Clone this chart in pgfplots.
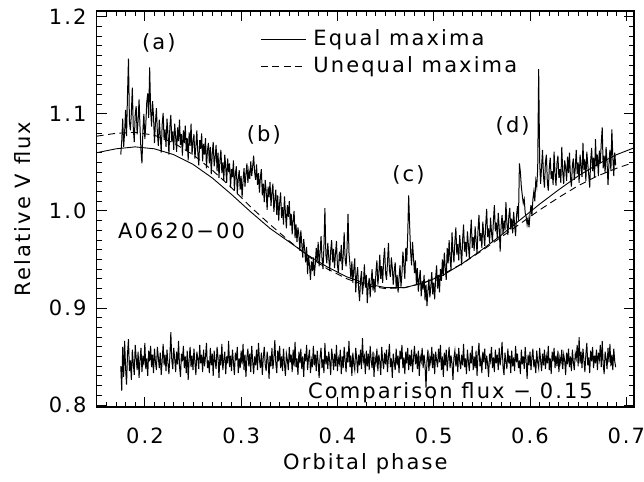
\documentclass[border=0pt]{standalone}
\usepackage{fontspec}
\setmainfont{DejaVu Sans}[LetterSpace=10]
\usepackage{pgfplots}
\usepackage{pgfplotstable}
\pgfplotsset{compat=1.18}

\pgfplotstableread[row sep=\\]{
x y\\
0.175 1.058\\ 0.176 1.072\\ 0.177 1.095\\ 0.178 1.066\\ 0.179 1.081\\ 0.180 1.104\\ 0.181 1.077\\ 0.182 1.120\\ 0.183 1.157\\ 0.184 1.092\\
0.185 1.083\\ 0.186 1.101\\ 0.187 1.127\\ 0.188 1.085\\ 0.189 1.071\\ 0.190 1.099\\ 0.191 1.108\\ 0.192 1.079\\ 0.193 1.093\\ 0.194 1.115\\
0.195 1.086\\ 0.196 1.062\\ 0.197 1.049\\ 0.198 1.083\\ 0.199 1.100\\ 0.200 1.074\\ 0.201 1.089\\ 0.202 1.112\\ 0.203 1.121\\ 0.204 1.096\\
0.205 1.148\\ 0.206 1.104\\ 0.207 1.087\\ 0.208 1.113\\ 0.209 1.098\\ 0.210 1.070\\ 0.211 1.091\\ 0.212 1.106\\ 0.213 1.081\\ 0.214 1.067\\
0.215 1.094\\ 0.216 1.078\\ 0.217 1.060\\ 0.218 1.089\\ 0.219 1.101\\ 0.220 1.073\\ 0.221 1.084\\ 0.222 1.066\\ 0.223 1.095\\ 0.224 1.080\\
0.225 1.058\\ 0.226 1.087\\ 0.227 1.099\\ 0.228 1.071\\ 0.229 1.082\\ 0.230 1.063\\ 0.231 1.090\\ 0.232 1.076\\ 0.233 1.061\\ 0.234 1.086\\
0.235 1.072\\ 0.236 1.094\\ 0.237 1.068\\ 0.238 1.079\\ 0.239 1.057\\ 0.240 1.083\\ 0.241 1.070\\ 0.242 1.088\\ 0.243 1.062\\ 0.244 1.075\\
0.245 1.052\\ 0.246 1.081\\ 0.247 1.067\\ 0.248 1.090\\ 0.249 1.058\\ 0.250 1.071\\ 0.251 1.079\\ 0.252 1.054\\ 0.253 1.066\\ 0.254 1.083\\
0.255 1.060\\ 0.256 1.047\\ 0.257 1.073\\ 0.258 1.064\\ 0.259 1.080\\ 0.260 1.051\\ 0.261 1.069\\ 0.262 1.058\\ 0.263 1.075\\ 0.264 1.044\\
0.265 1.062\\ 0.266 1.070\\ 0.267 1.049\\ 0.268 1.066\\ 0.269 1.038\\ 0.270 1.059\\ 0.271 1.071\\ 0.272 1.046\\ 0.273 1.055\\ 0.274 1.068\\
0.275 1.041\\ 0.276 1.060\\ 0.277 1.034\\ 0.278 1.052\\ 0.279 1.063\\ 0.280 1.039\\ 0.281 1.050\\ 0.282 1.031\\ 0.283 1.058\\ 0.284 1.045\\
0.285 1.029\\ 0.286 1.054\\ 0.287 1.040\\ 0.288 1.049\\ 0.289 1.024\\ 0.290 1.043\\ 0.291 1.035\\ 0.292 1.052\\ 0.293 1.021\\ 0.294 1.038\\
0.295 1.046\\ 0.296 1.017\\ 0.297 1.033\\ 0.298 1.042\\ 0.299 1.022\\ 0.300 1.036\\ 0.301 1.014\\ 0.302 1.031\\ 0.303 1.044\\ 0.304 1.025\\
0.305 1.038\\ 0.306 1.049\\ 0.307 1.029\\ 0.308 1.041\\ 0.309 1.033\\ 0.310 1.051\\ 0.311 1.036\\ 0.312 1.046\\ 0.313 1.057\\ 0.314 1.040\\
0.315 1.032\\ 0.316 1.048\\ 0.317 1.027\\ 0.318 1.039\\ 0.319 1.019\\ 0.320 1.035\\ 0.321 1.043\\ 0.322 1.016\\ 0.323 1.028\\ 0.324 1.009\\
0.325 1.032\\ 0.326 1.020\\ 0.327 1.001\\ 0.328 1.025\\ 0.329 1.014\\ 0.330 1.030\\ 0.331 1.005\\ 0.332 1.019\\ 0.333 1.028\\ 0.334 0.999\\
0.335 1.012\\ 0.336 1.022\\ 0.337 0.996\\ 0.338 1.016\\ 0.339 0.990\\ 0.340 1.008\\ 0.341 1.019\\ 0.342 0.993\\ 0.343 1.004\\ 0.344 0.986\\
0.345 1.015\\ 0.346 0.998\\ 0.347 0.982\\ 0.348 1.006\\ 0.349 0.994\\ 0.350 1.010\\ 0.351 0.985\\ 0.352 0.997\\ 0.353 0.976\\ 0.354 0.991\\
0.355 1.000\\ 0.356 0.972\\ 0.357 0.986\\ 0.358 0.968\\ 0.359 0.983\\ 0.360 0.975\\ 0.361 0.959\\ 0.362 0.980\\ 0.363 0.966\\ 0.364 0.952\\
0.365 0.971\\ 0.366 0.960\\ 0.367 0.947\\ 0.368 0.963\\ 0.369 0.935\\ 0.370 0.954\\ 0.371 0.944\\ 0.372 0.929\\ 0.373 0.948\\ 0.374 0.938\\
0.375 0.952\\ 0.376 0.933\\ 0.377 0.945\\ 0.378 0.962\\ 0.379 0.949\\ 0.380 0.968\\ 0.381 0.943\\ 0.382 0.957\\ 0.383 0.974\\ 0.384 0.951\\
0.385 0.940\\ 0.386 0.963\\ 0.387 1.003\\ 0.388 0.955\\ 0.389 0.946\\ 0.390 0.967\\ 0.391 0.952\\ 0.392 0.938\\ 0.393 0.959\\ 0.394 0.970\\
0.395 0.947\\ 0.396 0.961\\ 0.397 0.941\\ 0.398 0.956\\ 0.399 0.969\\ 0.400 0.944\\ 0.401 0.936\\ 0.402 0.958\\ 0.403 0.948\\ 0.404 0.965\\
0.405 0.939\\ 0.406 0.954\\ 0.407 0.978\\ 0.408 0.950\\ 0.409 0.943\\ 0.410 0.962\\ 0.411 0.997\\ 0.412 0.957\\ 0.413 0.945\\ 0.414 0.930\\
0.415 0.948\\ 0.416 0.926\\ 0.417 0.940\\ 0.418 0.951\\ 0.419 0.916\\ 0.420 0.933\\ 0.421 0.942\\ 0.422 0.920\\ 0.423 0.907\\ 0.424 0.929\\
0.425 0.938\\ 0.426 0.914\\ 0.427 0.925\\ 0.428 0.945\\ 0.429 0.921\\ 0.430 0.934\\ 0.431 0.905\\ 0.432 0.923\\ 0.433 0.931\\ 0.434 0.911\\
0.435 0.927\\ 0.436 0.940\\ 0.437 0.918\\ 0.438 0.930\\ 0.439 0.916\\ 0.440 0.937\\ 0.441 0.949\\ 0.442 0.924\\ 0.443 0.935\\ 0.444 0.955\\
0.445 0.930\\ 0.446 0.943\\ 0.447 0.926\\ 0.448 0.950\\ 0.449 0.962\\ 0.450 0.936\\ 0.451 0.929\\ 0.452 0.947\\ 0.453 0.967\\ 0.454 0.939\\
0.455 0.932\\ 0.456 0.952\\ 0.457 0.941\\ 0.458 0.924\\ 0.459 0.938\\ 0.460 0.947\\ 0.461 0.921\\ 0.462 0.934\\ 0.463 0.916\\ 0.464 0.931\\
0.465 0.944\\ 0.466 0.922\\ 0.467 0.935\\ 0.468 0.958\\ 0.469 0.945\\ 0.470 0.930\\ 0.471 0.962\\ 0.472 0.948\\ 0.473 0.975\\ 0.474 1.016\\
0.475 0.985\\ 0.476 0.958\\ 0.477 0.944\\ 0.478 0.968\\ 0.479 0.952\\ 0.480 0.936\\ 0.481 0.949\\ 0.482 0.925\\ 0.483 0.941\\ 0.484 0.917\\
0.485 0.930\\ 0.486 0.939\\ 0.487 0.912\\ 0.488 0.928\\ 0.489 0.919\\ 0.490 0.934\\ 0.491 0.908\\ 0.492 0.924\\ 0.493 0.902\\ 0.494 0.918\\
0.495 0.930\\ 0.496 0.911\\ 0.497 0.922\\ 0.498 0.937\\ 0.499 0.914\\ 0.500 0.926\\ 0.501 0.909\\ 0.502 0.931\\ 0.503 0.944\\ 0.504 0.920\\
0.505 0.934\\ 0.506 0.916\\ 0.507 0.940\\ 0.508 0.928\\ 0.509 0.950\\ 0.510 0.933\\ 0.511 0.957\\ 0.512 0.941\\ 0.513 0.929\\ 0.514 0.962\\
0.515 0.946\\ 0.516 0.970\\ 0.517 0.951\\ 0.518 0.939\\ 0.519 0.978\\ 0.520 0.958\\ 0.521 0.947\\ 0.522 0.969\\ 0.523 0.983\\ 0.524 0.955\\
0.525 0.966\\ 0.526 0.949\\ 0.527 0.975\\ 0.528 0.961\\ 0.529 0.944\\ 0.530 0.970\\ 0.531 0.986\\ 0.532 0.958\\ 0.533 0.968\\ 0.534 0.953\\
0.535 0.979\\ 0.536 0.965\\ 0.537 0.951\\ 0.538 0.974\\ 0.539 0.991\\ 0.540 0.962\\ 0.541 0.973\\ 0.542 0.959\\ 0.543 0.984\\ 0.544 0.970\\
0.545 0.956\\ 0.546 0.980\\ 0.547 0.996\\ 0.548 0.969\\ 0.549 0.977\\ 0.550 0.962\\ 0.551 0.989\\ 0.552 0.975\\ 0.553 0.964\\ 0.554 0.986\\
0.555 1.002\\ 0.556 0.973\\ 0.557 0.982\\ 0.558 0.967\\ 0.559 0.993\\ 0.560 0.978\\ 0.561 0.968\\ 0.562 0.990\\ 0.563 1.006\\ 0.564 0.979\\
0.565 0.988\\ 0.566 0.972\\ 0.567 0.998\\ 0.568 0.983\\ 0.569 0.958\\ 0.570 0.985\\ 0.571 0.996\\ 0.572 0.976\\ 0.573 0.990\\ 0.574 0.980\\
0.575 1.009\\ 0.576 0.987\\ 0.577 0.975\\ 0.578 0.994\\ 0.579 1.003\\ 0.580 0.981\\ 0.581 0.992\\ 0.582 0.977\\ 0.583 0.999\\ 0.584 0.986\\
0.585 0.974\\ 0.586 0.995\\ 0.587 1.005\\ 0.588 0.990\\ 0.589 1.049\\ 0.590 1.040\\ 0.591 1.025\\ 0.592 1.016\\ 0.593 1.008\\ 0.594 1.012\\
0.595 0.998\\ 0.596 0.994\\ 0.597 0.986\\ 0.598 0.992\\ 0.599 0.983\\ 0.600 0.997\\ 0.601 1.006\\ 0.602 0.995\\ 0.603 1.012\\ 0.604 1.020\\
0.605 1.010\\ 0.606 1.031\\ 0.607 1.025\\ 0.608 1.044\\ 0.609 1.146\\ 0.610 1.052\\ 0.611 1.028\\ 0.612 1.045\\ 0.613 1.063\\ 0.614 1.036\\
0.615 1.024\\ 0.616 1.050\\ 0.617 1.058\\ 0.618 1.030\\ 0.619 1.021\\ 0.620 1.044\\ 0.621 1.055\\ 0.622 1.033\\ 0.623 1.041\\ 0.624 1.027\\
0.625 1.061\\ 0.626 1.038\\ 0.627 1.026\\ 0.628 1.049\\ 0.629 1.057\\ 0.630 1.034\\ 0.631 1.043\\ 0.632 1.029\\ 0.633 1.066\\ 0.634 1.040\\
0.635 1.028\\ 0.636 1.052\\ 0.637 1.045\\ 0.638 1.031\\ 0.639 1.056\\ 0.640 1.039\\ 0.641 1.060\\ 0.642 1.035\\ 0.643 1.025\\ 0.644 1.047\\
0.645 1.054\\ 0.646 1.032\\ 0.647 1.044\\ 0.648 1.063\\ 0.649 1.038\\ 0.650 1.050\\ 0.651 1.029\\ 0.652 1.058\\ 0.653 1.046\\ 0.654 1.035\\
0.655 1.070\\ 0.656 1.042\\ 0.657 1.053\\ 0.658 1.031\\ 0.659 1.061\\ 0.660 1.048\\ 0.661 1.037\\ 0.662 1.024\\ 0.663 1.052\\ 0.664 1.065\\
0.665 1.041\\ 0.666 1.055\\ 0.667 1.034\\ 0.668 1.074\\ 0.669 1.046\\ 0.670 1.058\\ 0.671 1.036\\ 0.672 1.062\\ 0.673 1.049\\ 0.674 1.070\\
0.675 1.086\\ 0.676 1.044\\ 0.677 1.057\\ 0.678 1.039\\ 0.679 1.066\\ 0.680 1.051\\ 0.681 1.027\\ 0.682 1.048\\ 0.683 1.063\\ 0.684 1.041\\
0.685 1.084\\ 0.686 1.056\\ 0.687 1.036\\ 0.688 1.060\\ 0.689 1.047\\
}\lightcurve

\pgfplotstableread[row sep=\\]{
x y\\
0.175 0.840\\ 0.176 0.815\\ 0.177 0.860\\ 0.178 0.829\\ 0.179 0.866\\ 0.180 0.838\\ 0.181 0.821\\ 0.182 0.853\\ 0.183 0.868\\ 0.184 0.835\\
0.185 0.846\\ 0.186 0.826\\ 0.187 0.857\\ 0.188 0.843\\ 0.189 0.831\\ 0.190 0.862\\ 0.191 0.849\\ 0.192 0.836\\ 0.193 0.855\\ 0.194 0.828\\
0.195 0.847\\ 0.196 0.859\\ 0.197 0.834\\ 0.198 0.851\\ 0.199 0.841\\ 0.200 0.864\\ 0.201 0.837\\ 0.202 0.848\\ 0.203 0.830\\ 0.204 0.856\\
0.205 0.845\\ 0.206 0.861\\ 0.207 0.839\\ 0.208 0.852\\ 0.209 0.833\\ 0.210 0.858\\ 0.211 0.844\\ 0.212 0.836\\ 0.213 0.860\\ 0.214 0.849\\
0.215 0.838\\ 0.216 0.854\\ 0.217 0.831\\ 0.218 0.846\\ 0.219 0.863\\ 0.220 0.841\\ 0.221 0.852\\ 0.222 0.835\\ 0.223 0.857\\ 0.224 0.843\\
0.225 0.832\\ 0.226 0.850\\ 0.227 0.875\\ 0.228 0.846\\ 0.229 0.837\\ 0.230 0.859\\ 0.231 0.848\\ 0.232 0.834\\ 0.233 0.855\\ 0.234 0.842\\
0.235 0.866\\ 0.236 0.840\\ 0.237 0.829\\ 0.238 0.853\\ 0.239 0.845\\ 0.240 0.861\\ 0.241 0.838\\ 0.242 0.850\\ 0.243 0.833\\ 0.244 0.856\\
0.245 0.826\\ 0.246 0.847\\ 0.247 0.860\\ 0.248 0.839\\ 0.249 0.851\\ 0.250 0.836\\ 0.251 0.858\\ 0.252 0.844\\ 0.253 0.831\\ 0.254 0.855\\
0.255 0.848\\ 0.256 0.837\\ 0.257 0.862\\ 0.258 0.843\\ 0.259 0.852\\ 0.260 0.834\\ 0.261 0.857\\ 0.262 0.840\\ 0.263 0.850\\ 0.264 0.864\\
0.265 0.838\\ 0.266 0.846\\ 0.267 0.833\\ 0.268 0.859\\ 0.269 0.841\\ 0.270 0.853\\ 0.271 0.830\\ 0.272 0.856\\ 0.273 0.845\\ 0.274 0.837\\
0.275 0.860\\ 0.276 0.849\\ 0.277 0.828\\ 0.278 0.852\\ 0.279 0.841\\ 0.280 0.863\\ 0.281 0.836\\ 0.282 0.847\\ 0.283 0.855\\ 0.284 0.832\\
0.285 0.850\\ 0.286 0.843\\ 0.287 0.866\\ 0.288 0.839\\ 0.289 0.851\\ 0.290 0.835\\ 0.291 0.857\\ 0.292 0.844\\ 0.293 0.831\\ 0.294 0.854\\
0.295 0.846\\ 0.296 0.860\\ 0.297 0.833\\ 0.298 0.848\\ 0.299 0.838\\ 0.300 0.856\\ 0.301 0.842\\ 0.302 0.863\\ 0.303 0.836\\ 0.304 0.852\\
0.305 0.829\\ 0.306 0.849\\ 0.307 0.858\\ 0.308 0.840\\ 0.309 0.853\\ 0.310 0.834\\ 0.311 0.861\\ 0.312 0.845\\ 0.313 0.832\\ 0.314 0.850\\
0.315 0.841\\ 0.316 0.857\\ 0.317 0.836\\ 0.318 0.864\\ 0.319 0.847\\ 0.320 0.838\\ 0.321 0.854\\ 0.322 0.831\\ 0.323 0.849\\ 0.324 0.860\\
0.325 0.842\\ 0.326 0.835\\ 0.327 0.855\\ 0.328 0.846\\ 0.329 0.827\\ 0.330 0.851\\ 0.331 0.840\\ 0.332 0.859\\ 0.333 0.837\\ 0.334 0.848\\
0.335 0.867\\ 0.336 0.843\\ 0.337 0.833\\ 0.338 0.856\\ 0.339 0.845\\ 0.340 0.861\\ 0.341 0.838\\ 0.342 0.850\\ 0.343 0.835\\ 0.344 0.858\\
0.345 0.842\\ 0.346 0.830\\ 0.347 0.853\\ 0.348 0.847\\ 0.349 0.836\\ 0.350 0.860\\ 0.351 0.844\\ 0.352 0.852\\ 0.353 0.834\\ 0.354 0.857\\
0.355 0.840\\ 0.356 0.865\\ 0.357 0.839\\ 0.358 0.848\\ 0.359 0.831\\ 0.360 0.855\\ 0.361 0.843\\ 0.362 0.858\\ 0.363 0.837\\ 0.364 0.850\\
0.365 0.829\\ 0.366 0.853\\ 0.367 0.845\\ 0.368 0.862\\ 0.369 0.836\\ 0.370 0.849\\ 0.371 0.857\\ 0.372 0.833\\ 0.373 0.846\\ 0.374 0.839\\
0.375 0.861\\ 0.376 0.841\\ 0.377 0.852\\ 0.378 0.835\\ 0.379 0.856\\ 0.380 0.844\\ 0.381 0.828\\ 0.382 0.850\\ 0.383 0.859\\ 0.384 0.838\\
0.385 0.847\\ 0.386 0.833\\ 0.387 0.864\\ 0.388 0.842\\ 0.389 0.851\\ 0.390 0.837\\ 0.391 0.855\\ 0.392 0.845\\ 0.393 0.831\\ 0.394 0.858\\
0.395 0.849\\ 0.396 0.836\\ 0.397 0.853\\ 0.398 0.840\\ 0.399 0.862\\ 0.400 0.835\\ 0.401 0.848\\ 0.402 0.843\\ 0.403 0.857\\ 0.404 0.832\\
0.405 0.850\\ 0.406 0.838\\ 0.407 0.860\\ 0.408 0.846\\ 0.409 0.834\\ 0.410 0.855\\ 0.411 0.844\\ 0.412 0.866\\ 0.413 0.839\\ 0.414 0.851\\
0.415 0.830\\ 0.416 0.854\\ 0.417 0.842\\ 0.418 0.836\\ 0.419 0.859\\ 0.420 0.848\\ 0.421 0.833\\ 0.422 0.852\\ 0.423 0.841\\ 0.424 0.857\\
0.425 0.837\\ 0.426 0.869\\ 0.427 0.845\\ 0.428 0.850\\ 0.429 0.832\\ 0.430 0.856\\ 0.431 0.840\\ 0.432 0.853\\ 0.433 0.836\\ 0.434 0.861\\
0.435 0.847\\ 0.436 0.838\\ 0.437 0.855\\ 0.438 0.829\\ 0.439 0.849\\ 0.440 0.843\\ 0.441 0.858\\ 0.442 0.835\\ 0.443 0.852\\ 0.444 0.845\\
0.445 0.831\\ 0.446 0.860\\ 0.447 0.846\\ 0.448 0.837\\ 0.449 0.854\\ 0.450 0.842\\ 0.451 0.857\\ 0.452 0.834\\ 0.453 0.850\\ 0.454 0.863\\
0.455 0.839\\ 0.456 0.848\\ 0.457 0.828\\ 0.458 0.853\\ 0.459 0.844\\ 0.460 0.836\\ 0.461 0.858\\ 0.462 0.841\\ 0.463 0.851\\ 0.464 0.833\\
0.465 0.856\\ 0.466 0.847\\ 0.467 0.862\\ 0.468 0.838\\ 0.469 0.849\\ 0.470 0.832\\ 0.471 0.855\\ 0.472 0.843\\ 0.473 0.859\\ 0.474 0.836\\
0.475 0.852\\ 0.476 0.840\\ 0.477 0.857\\ 0.478 0.834\\ 0.479 0.848\\ 0.480 0.861\\ 0.481 0.842\\ 0.482 0.853\\ 0.483 0.837\\ 0.484 0.856\\
0.485 0.830\\ 0.486 0.850\\ 0.487 0.845\\ 0.488 0.859\\ 0.489 0.838\\ 0.490 0.852\\ 0.491 0.841\\ 0.492 0.818\\ 0.493 0.846\\ 0.494 0.857\\
0.495 0.835\\ 0.496 0.849\\ 0.497 0.843\\ 0.498 0.860\\ 0.499 0.838\\ 0.500 0.853\\ 0.501 0.832\\ 0.502 0.855\\ 0.503 0.846\\ 0.504 0.839\\
0.505 0.858\\ 0.506 0.844\\ 0.507 0.862\\ 0.508 0.836\\ 0.509 0.850\\ 0.510 0.829\\ 0.511 0.854\\ 0.512 0.841\\ 0.513 0.857\\ 0.514 0.835\\
0.515 0.848\\ 0.516 0.860\\ 0.517 0.838\\ 0.518 0.851\\ 0.519 0.843\\ 0.520 0.826\\ 0.521 0.849\\ 0.522 0.856\\ 0.523 0.840\\ 0.524 0.853\\
0.525 0.834\\ 0.526 0.859\\ 0.527 0.845\\ 0.528 0.837\\ 0.529 0.852\\ 0.530 0.841\\ 0.531 0.863\\ 0.532 0.839\\ 0.533 0.848\\ 0.534 0.832\\
0.535 0.857\\ 0.536 0.845\\ 0.537 0.835\\ 0.538 0.854\\ 0.539 0.843\\ 0.540 0.861\\ 0.541 0.836\\ 0.542 0.850\\ 0.543 0.838\\ 0.544 0.856\\
0.545 0.830\\ 0.546 0.852\\ 0.547 0.864\\ 0.548 0.840\\ 0.549 0.847\\ 0.550 0.833\\ 0.551 0.855\\ 0.552 0.844\\ 0.553 0.858\\ 0.554 0.837\\
0.555 0.851\\ 0.556 0.842\\ 0.557 0.829\\ 0.558 0.853\\ 0.559 0.846\\ 0.560 0.860\\ 0.561 0.838\\ 0.562 0.849\\ 0.563 0.834\\ 0.564 0.857\\
0.565 0.843\\ 0.566 0.852\\ 0.567 0.836\\ 0.568 0.859\\ 0.569 0.841\\ 0.570 0.850\\ 0.571 0.865\\ 0.572 0.839\\ 0.573 0.831\\ 0.574 0.854\\
0.575 0.845\\ 0.576 0.837\\ 0.577 0.858\\ 0.578 0.843\\ 0.579 0.851\\ 0.580 0.833\\ 0.581 0.856\\ 0.582 0.840\\ 0.583 0.849\\ 0.584 0.835\\
0.585 0.861\\ 0.586 0.844\\ 0.587 0.853\\ 0.588 0.838\\ 0.589 0.846\\ 0.590 0.832\\ 0.591 0.857\\ 0.592 0.842\\ 0.593 0.850\\ 0.594 0.837\\
0.595 0.860\\ 0.596 0.845\\ 0.597 0.827\\ 0.598 0.852\\ 0.599 0.841\\ 0.600 0.855\\ 0.601 0.836\\ 0.602 0.849\\ 0.603 0.858\\ 0.604 0.839\\
0.605 0.847\\ 0.606 0.833\\ 0.607 0.856\\ 0.608 0.844\\ 0.609 0.838\\ 0.610 0.859\\ 0.611 0.846\\ 0.612 0.835\\ 0.613 0.853\\ 0.614 0.841\\
0.615 0.857\\ 0.616 0.837\\ 0.617 0.850\\ 0.618 0.843\\ 0.619 0.861\\ 0.620 0.836\\ 0.621 0.848\\ 0.622 0.832\\ 0.623 0.855\\ 0.624 0.845\\
0.625 0.859\\ 0.626 0.838\\ 0.627 0.851\\ 0.628 0.840\\ 0.629 0.856\\ 0.630 0.834\\ 0.631 0.849\\ 0.632 0.843\\ 0.633 0.857\\ 0.634 0.837\\
0.635 0.852\\ 0.636 0.846\\ 0.637 0.831\\ 0.638 0.854\\ 0.639 0.842\\ 0.640 0.858\\ 0.641 0.839\\ 0.642 0.850\\ 0.643 0.835\\ 0.644 0.857\\
0.645 0.844\\ 0.646 0.836\\ 0.647 0.853\\ 0.648 0.848\\ 0.649 0.862\\ 0.650 0.840\\ 0.651 0.870\\ 0.652 0.843\\ 0.653 0.855\\ 0.654 0.838\\
0.655 0.858\\ 0.656 0.846\\ 0.657 0.834\\ 0.658 0.852\\ 0.659 0.864\\ 0.660 0.841\\ 0.661 0.849\\ 0.662 0.833\\ 0.663 0.856\\ 0.664 0.845\\
0.665 0.860\\ 0.666 0.838\\ 0.667 0.851\\ 0.668 0.843\\ 0.669 0.857\\ 0.670 0.836\\ 0.671 0.854\\ 0.672 0.847\\ 0.673 0.862\\ 0.674 0.839\\
0.675 0.866\\ 0.676 0.842\\ 0.677 0.832\\ 0.678 0.855\\ 0.679 0.848\\ 0.680 0.837\\ 0.681 0.859\\ 0.682 0.844\\ 0.683 0.863\\ 0.684 0.840\\
0.685 0.852\\ 0.686 0.836\\ 0.687 0.858\\ 0.688 0.845\\ 0.689 0.839\\
}\comparison

\pgfplotstableread[row sep=\\]{
x y\\
0.150 1.060\\ 0.170 1.064\\ 0.190 1.066\\ 0.210 1.064\\ 0.230 1.058\\ 0.250 1.048\\ 0.270 1.034\\ 0.290 1.017\\
0.310 0.999\\ 0.330 0.982\\ 0.350 0.968\\ 0.370 0.954\\ 0.390 0.942\\ 0.410 0.932\\ 0.430 0.925\\ 0.450 0.921\\
0.470 0.921\\ 0.490 0.926\\ 0.510 0.934\\ 0.530 0.946\\ 0.550 0.960\\ 0.570 0.975\\ 0.590 0.991\\ 0.610 1.007\\
0.630 1.022\\ 0.650 1.036\\ 0.670 1.048\\ 0.690 1.058\\ 0.708 1.065\\
}\equalmax

\pgfplotstableread[row sep=\\]{
x y\\
0.150 1.077\\ 0.170 1.080\\ 0.190 1.081\\ 0.210 1.078\\ 0.230 1.070\\ 0.250 1.058\\ 0.270 1.042\\ 0.290 1.024\\
0.310 1.004\\ 0.330 0.986\\ 0.350 0.969\\ 0.370 0.953\\ 0.390 0.940\\ 0.410 0.930\\ 0.430 0.923\\ 0.450 0.920\\
0.470 0.921\\ 0.490 0.926\\ 0.510 0.935\\ 0.530 0.946\\ 0.550 0.959\\ 0.570 0.973\\ 0.590 0.987\\ 0.610 1.001\\
0.630 1.014\\ 0.650 1.026\\ 0.670 1.036\\ 0.690 1.044\\ 0.708 1.050\\
}\unequalmax

\begin{document}
\fontsize{21bp}{25bp}\selectfont
\begin{tikzpicture}
\useasboundingbox (-96.7bp,-75bp) rectangle (547.3bp,407bp);
\begin{axis}[
  at={(0,0)}, anchor=south west,
  width=537.3bp, height=396bp, scale only axis,
  xmin=0.15, xmax=0.708, ymin=0.798, ymax=1.206,
  xtick={0.2,0.3,0.4,0.5,0.6,0.7},
  ytick={0.8,0.9,1.0,1.1,1.2},
  minor xtick={0.15,0.16,...,0.71},
  minor ytick={0.80,0.81,...,1.21},
  tick align=inside,
  major tick length=10bp, minor tick length=5bp,
  tick style={line width=0.9bp, black},
  axis line style={line width=1.2bp},
  x tick label style={inner sep=0pt, anchor=north, yshift=-21bp,
    /pgf/number format/fixed, /pgf/number format/fixed zerofill,
    /pgf/number format/precision=1, /pgf/number format/assume math mode=true},
  y tick label style={inner sep=0pt, anchor=east, xshift=-10bp,
    /pgf/number format/fixed, /pgf/number format/fixed zerofill,
    /pgf/number format/precision=1, /pgf/number format/assume math mode=true},
  xlabel={Orbital phase},
  xlabel style={at={(axis description cs:0.5,-0.144)}, anchor=center, inner sep=0pt},
  ylabel={Relative V flux},
  ylabel style={at={(axis description cs:-0.137,0.5)}, anchor=center, inner sep=0pt},
  legend image code/.code={\draw[#1] (0bp,0bp) -- (45bp,0bp);},
  legend cell align=left,
  legend style={draw=none, fill=none, inner sep=0pt, outer sep=0pt,
    row sep=8bp, column sep=7bp, nodes={inner sep=0pt},
    at={(axis cs:0.3201,1.187)}, anchor=north west},
]
\addplot[line width=1.0bp, black, forget plot] table {\lightcurve};
\addplot[line width=1.0bp, black, forget plot] table {\comparison};
\addplot[line width=0.9bp, black] table {\equalmax};
\addlegendentry{Equal maxima}
\addplot[line width=0.9bp, black, dash pattern=on 7bp off 4.5bp] table {\unequalmax};
\addlegendentry{Unequal maxima}
\node at (axis cs:0.2145,1.173) {(a)};
\node at (axis cs:0.3236,1.078) {(b)};
\node at (axis cs:0.4738,1.037) {(c)};
\node at (axis cs:0.582,1.088) {(d)};
\node[anchor=base west, inner sep=0pt] at (axis cs:0.172,0.9718) {A0620−00};
\node[anchor=base west, inner sep=0pt] at (axis cs:0.3693,0.807) {Comparison flux − 0.15};
\end{axis}
\end{tikzpicture}
\end{document}
